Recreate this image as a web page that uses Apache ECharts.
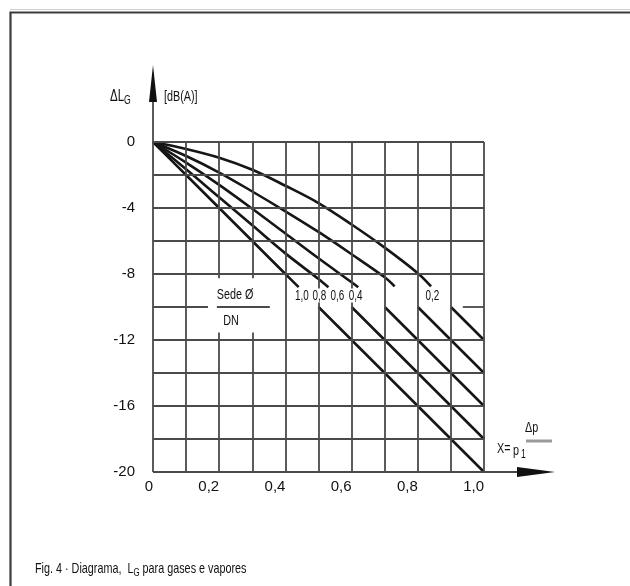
<!DOCTYPE html>
<html>
<head>
<meta charset="utf-8">
<script src="https://cdn.jsdelivr.net/npm/echarts@6/dist/echarts.min.js"></script>
<style>
html,body{margin:0;padding:0;background:#fff;}
#c{width:630px;height:586px;}
</style>
</head>
<body>
<div id="c"></div>
<script>
// ---- data ----
const gridX = [0, 0.1, 0.2, 0.3, 0.4, 0.5, 0.6, 0.7, 0.8, 0.9, 1.0];
const gridY = [0, -2, -4, -6, -8, -10, -12, -14, -16, -18, -20];
const xTickValues = [0, 0.2, 0.4, 0.6, 0.8, 1.0];
const xTickLabels = ['0', '0,2', '0,4', '0,6', '0,8', '1,0'];
const yTickValues = [0, -4, -8, -12, -16, -20];
const yTickLabels = ['0', '-4', '-8', '-12', '-16', '-20'];

const curveNames = ['1,0', '0,8', '0,6', '0,4', '0,2'];
// upper (curved) part of each line, from origin to the label gap
const upper10 = [[0,0],[0.1,-2],[0.2,-4],[0.3,-6],[0.4,-8],[0.44,-8.8]];
const upper08 = [[0,0],[0.1,-1.65],[0.2,-3.35],[0.3,-5.05],[0.4,-6.75],[0.5,-8.3],[0.53,-8.8]];
const upper06 = [[0,0],[0.1,-1.25],[0.2,-2.6],[0.3,-4.05],[0.4,-5.55],[0.5,-7.05],[0.6,-8.5],[0.62,-8.8]];
const upper04 = [[0,0],[0.1,-0.85],[0.2,-1.85],[0.3,-3.0],[0.4,-4.2],[0.5,-5.45],[0.6,-6.8],[0.7,-8.2],[0.73,-8.75]];
const upper02 = [[0,0],[0.1,-0.42],[0.2,-0.95],[0.3,-1.68],[0.4,-2.65],[0.5,-3.7],[0.6,-5.0],[0.7,-6.4],[0.8,-7.95],[0.84,-8.75]];
// lower (straight) part of each line, below the label gap
const lower10 = [[0.5,-10],[1.0,-20]];
const lower08 = [[0.6,-10],[1.0,-18]];
const lower06 = [[0.7,-10],[1.0,-16]];
const lower04 = [[0.8,-10],[1.0,-14]];
const lower02 = [[0.9,-10],[1.0,-12]];
// label anchors (data coords, text centre) for curve parameter labels
const curveLabelX = [0.450, 0.503, 0.557, 0.612, 0.844];
const curveLabelY = [-9.3, -9.3, -9.3, -9.3, -9.3];
// "Sede Ø / DN" annotation
const fracTexts = ['Sede Ø', 'DN'];
const fracX = [0.248, 0.236];
const fracY = [-9.25, -10.85];
// label-gap segments of the -10 grid line
const gapLineSegments = [[0, 0.166], [0.193, 0.353], [0.936, 1.0]];
const gapVerticals = [0.2, 0.3];
const gapVerticalRange = [-11.55, -8.25];

// ---- styles ----
const FONT = "'Liberation Sans',Arial,sans-serif";
const GRID_COLOR = '#4a4a4a';
const GRID_W = 1.8;
const CURVE_COLOR = '#161616';
const CURVE_W = 2.6;
const SX = 0.72; // horizontal condensing of annotation text

function fmt(values, labels) {
  return function (v) {
    for (let i = 0; i < values.length; i++) if (Math.abs(values[i] - v) < 1e-6) return labels[i];
    return '';
  };
}

// grid lines as markLine segments
const gridLines = [];
gridX.forEach(function (x) {
  if (gapVerticals.some(function (g) { return Math.abs(g - x) < 1e-6; })) {
    gridLines.push([{coord:[x,-20]},{coord:[x,gapVerticalRange[0]]}]);
    gridLines.push([{coord:[x,gapVerticalRange[1]]},{coord:[x,0]}]);
  } else {
    gridLines.push([{coord:[x,-20]},{coord:[x,0]}]);
  }
});
gridY.forEach(function (y) {
  if (y === -10) {
    gapLineSegments.forEach(function (s) {
      gridLines.push([{coord:[s[0],y]},{coord:[s[1],y]}]);
    });
  } else {
    gridLines.push([{coord:[0,y]},{coord:[1,y]}]);
  }
});

const uppers = [upper10, upper08, upper06, upper04, upper02];
const lowers = [lower10, lower08, lower06, lower04, lower02];

const series = [{
  type: 'line', data: [], silent: true, z: 1,
  markLine: {
    silent: true, symbol: ['none','none'], animation: false,
    label: {show: false},
    lineStyle: {color: GRID_COLOR, width: GRID_W, type: 'solid'},
    emphasis: {disabled: true},
    data: gridLines
  }
}];
uppers.forEach(function (d, i) {
  series.push({type:'line', name: curveNames[i], data: d, smooth: 0.35, showSymbol: false, symbol:'none',
    lineStyle: {color: CURVE_COLOR, width: CURVE_W}, z: 3, silent: true, animation: false});
});
lowers.forEach(function (d, i) {
  series.push({type:'line', name: curveNames[i] + ' ', data: d, showSymbol: false, symbol:'none',
    lineStyle: {color: CURVE_COLOR, width: CURVE_W}, z: 3, silent: true, animation: false});
});

const option = {
  animation: false,
  backgroundColor: '#fff',
  grid: {left: 153, right: 146, top: 142, bottom: 114, containLabel: false},
  xAxis: {
    type: 'value', min: 0, max: 1, interval: 0.1,
    axisLine: {show: false}, axisTick: {show: false}, splitLine: {show: false},
    axisLabel: {formatter: fmt(xTickValues, xTickLabels), color: '#111', fontFamily: FONT, fontSize: 15, margin: 7, align: 'right', showMinLabel: true, showMaxLabel: true}
  },
  yAxis: {
    type: 'value', min: -20, max: 0, interval: 2,
    axisLine: {show: false}, axisTick: {show: false}, splitLine: {show: false},
    axisLabel: {formatter: fmt(yTickValues, yTickLabels), color: '#111', fontFamily: FONT, fontSize: 15, margin: 18, padding: [0,0,3,0]}
  },
  series: series
};

const chart = echarts.init(document.getElementById('c'), null, {renderer: 'canvas'});
chart.setOption(option);

const O = chart.convertToPixel({gridIndex: 0}, [0, 0]);
const R = chart.convertToPixel({gridIndex: 0}, [1, -20]);
const yTip = 65, xTip = 555;

function txt(x, y, s, size, align, bg, sx) {
  const st = {text:s, font:size + 'px ' + FONT, fill:'#111', align: align || 'left', verticalAlign:'middle'};
  if (bg) { st.backgroundColor = '#fff'; st.padding = [0, 1]; st.lineHeight = 14; }
  return {type:'text', x:x, y:y, scaleX: sx || SX, z:10, style:st};
}

const graphics = [
  {type:'polyline', shape:{points:[[10.5,586],[10.5,12.5],[630,12.5]]}, style:{stroke:'#3c3c3c', lineWidth:2.2, fill:null}, z: 10},
  {type:'line', shape:{x1:10, y1:9.5, x2:630, y2:9.5}, style:{stroke:'#cfcfcf', lineWidth:1}, z: 10},
  {type:'line', shape:{x1:O[0], y1:O[1], x2:O[0], y2:yTip+20}, style:{stroke:GRID_COLOR, lineWidth:GRID_W}, z: 10},
  {type:'polygon', shape:{points:[[O[0],yTip],[O[0]-4,yTip+37],[O[0]+4,yTip+37]]}, style:{fill:'#111'}, z: 10},
  {type:'line', shape:{x1:R[0], y1:R[1], x2:xTip-20, y2:R[1]}, style:{stroke:GRID_COLOR, lineWidth:GRID_W}, z: 10},
  {type:'polygon', shape:{points:[[xTip,R[1]],[xTip-38,R[1]-5],[xTip-38,R[1]+5]]}, style:{fill:'#111'}, z: 10},
  // y axis title
  txt(110, 97, 'ΔL', 16),
  txt(124, 101, 'G', 12),
  txt(164, 97, '[dB(A)]', 15),
  // x axis title
  txt(497, 449, 'X=', 15),
  txt(513, 451, 'p', 15),
  txt(521, 455, '1', 12),
  txt(525, 428, 'Δp', 15),
  {type:'line', shape:{x1:526, y1:441, x2:552, y2:441}, style:{stroke:'#9a9a9a', lineWidth:3}, z: 10},
  // caption
  {type:'text', x:35, y:569, scaleX:SX, z:10, style:{
    text:'{n|Fig. 4 · Diagrama,  L}{s|G}{n| para gases e vapores}',
    verticalAlign:'middle',
    rich:{n:{font:'15px ' + FONT, fill:'#111', lineHeight:18}, s:{font:'11px ' + FONT, fill:'#111', verticalAlign:'bottom', lineHeight:12}}
  }}
];
// curve labels placed through the axes' scales
curveNames.forEach(function (n, i) {
  const p = chart.convertToPixel({gridIndex: 0}, [curveLabelX[i], curveLabelY[i]]);
  graphics.push(txt(p[0], p[1], n, 15, 'center', true, 0.66));
});
fracTexts.forEach(function (n, i) {
  const p = chart.convertToPixel({gridIndex: 0}, [fracX[i], fracY[i]]);
  graphics.push(txt(p[0], p[1], n, 15, 'center', true));
});
chart.setOption({graphic: graphics});
</script>
</body>
</html>
